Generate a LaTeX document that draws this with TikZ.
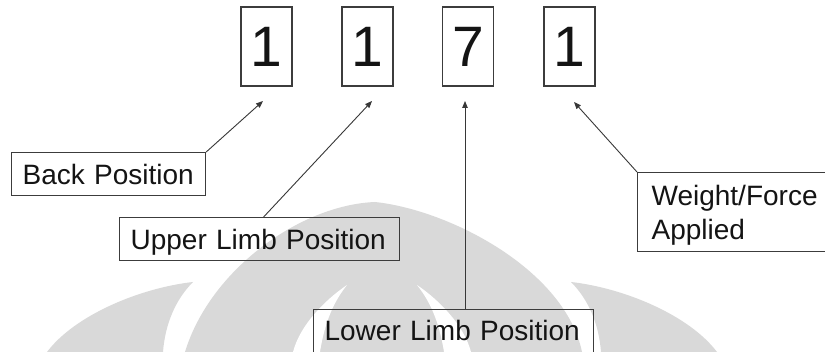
\documentclass[tikz,border=0pt]{standalone}
\usepackage{fontspec}
\setmainfont{Liberation Sans}
\usetikzlibrary{arrows.meta,calc}
\definecolor{wm}{RGB}{217,217,217}
\definecolor{boxc}{RGB}{60,60,60}
\definecolor{arrc}{RGB}{55,55,55}
\definecolor{txt}{RGB}{20,20,20}
\begin{document}
\begin{tikzpicture}[x=1pt,y=-1pt,
  digitbox/.style={draw=boxc,line width=1.3pt,minimum width=51pt,minimum height=79pt,inner sep=0pt,font=\fontsize{57}{60}\selectfont,text=txt},
  lbl/.style={draw=boxc,line width=1.2pt,font=\fontsize{28}{34}\selectfont,text=txt,inner xsep=11pt,inner ysep=0pt,align=left,text height=21pt,text depth=0pt,anchor=north west},
  conn/.style={draw=arrc,line width=0.9pt,-{Triangle[length=7pt,width=5.5pt]}},
  wmark/.style={fill=wm,draw=none}]
\useasboundingbox (0,0) rectangle (825,352);
\fill[white] (0,0) rectangle (825,352);
% watermark
\fill[wmark] (193,282) .. controls (140,288) and (75,315) .. (47,352) -- (163,352) .. controls (165,325) and (175,300) .. cycle;
\fill[wmark] (571,282) .. controls (624,288) and (689,315) .. (717,352) -- (601,352) .. controls (599,325) and (589,300) .. cycle;
\fill[wmark] (185,352) .. controls (210,270) and (300,205) .. (375,202) .. controls (450,210) and (565,270) .. (582,352) -- cycle;
\fill[white] (347,285) .. controls (325,300) and (300,325) .. (293,352) -- (320,352) .. controls (325,320) and (335,300) .. cycle;
\fill[white] (417,285) .. controls (439,300) and (464,325) .. (471,352) -- (444,352) .. controls (439,320) and (429,300) .. cycle;
% digit boxes
\node[digitbox] (d1) at (266.5,46.5) {1};
\node[digitbox] (d2) at (367.5,46.5) {1};
\node[digitbox] (d3) at (468,46.5) {7};
\node[digitbox] (d4) at (569.5,46.5) {1};
% labels
\node[lbl,text width=172pt,minimum height=43pt] (back) at (11,152) {Back Position};
\node[lbl,text width=258pt,minimum height=43pt] (upper) at (119,217) {Upper Limb Position};
\node[lbl,text width=258pt,minimum height=46pt,text depth=5pt] (lower) at (313,309) {Lower Limb Position};
\node[lbl,text width=175pt,minimum height=79pt,inner xsep=14pt,text depth=34pt] (weight) at (637,172) {Weight/Force\\Applied};
% arrow tips
\coordinate (t1) at (263,101);
\coordinate (t2) at (372,101);
\coordinate (t3) at (465,101);
\coordinate (t4) at (574,102);
\draw[conn] (back.north east) -- (t1);
\draw[conn] ($(upper.north)+(4,0)$) -- (t2);
\draw[conn] ($(lower.north west)+(152,0)$) -- (t3);
\draw[conn] (weight.north west) -- (t4);
\end{tikzpicture}
\end{document}
